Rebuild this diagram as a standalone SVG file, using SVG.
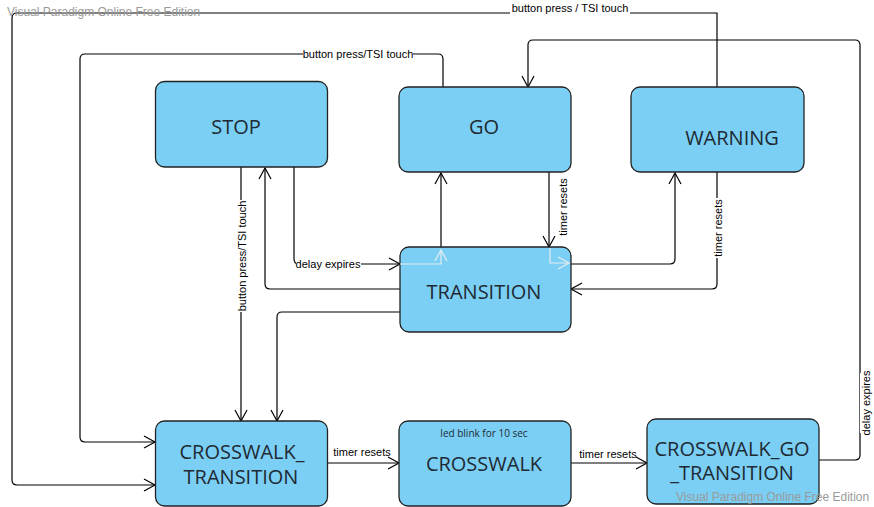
<svg xmlns="http://www.w3.org/2000/svg" width="874" height="507" viewBox="0 0 874 507">
<style>
.node rect{fill:#7bcff4;stroke:#222;stroke-width:1.3}
.nt{font-family:"Open Sans",sans-serif;font-size:20px;fill:#1e2a33;text-anchor:middle}
.st{font-family:"Open Sans",sans-serif;font-size:10px;fill:#1e2a33;text-anchor:middle}
.conn path{fill:none;stroke:#000;stroke-width:1.2}
.conn path.lt{stroke:#e4ecf0}
.lb{font-family:"Liberation Sans",Arial,sans-serif;font-size:11px;fill:#000;text-anchor:middle}
.bg{fill:#fff}
.wm{font-family:"Liberation Sans",Arial,sans-serif;font-size:12px;fill:#9a9a9a}
</style>
<defs>
<marker id="ah" markerWidth="14" markerHeight="14" refX="12" refY="7" orient="auto" markerUnits="userSpaceOnUse"><path d="M1,1 L12,7 L1,13" fill="none" stroke="#000" stroke-width="1.2"/></marker>
<marker id="ahl" markerWidth="14" markerHeight="14" refX="12" refY="7" orient="auto" markerUnits="userSpaceOnUse"><path d="M1,1 L12,7 L1,13" fill="none" stroke="#e4ecf0" stroke-width="1.2"/></marker>
</defs>
<g id="connectors" class="conn">
<path marker-end="url(#ah)" d="M717,87 V13 H17 Q12,13 12,18 V480 Q12,485 17,485 H155"/>
<path marker-end="url(#ah)" d="M443,87 V59 Q443,54 438,54 H85 Q80,54 80,59 V437 Q80,442 85,442 H155"/>
<path marker-end="url(#ah)" d="M819,460 H855 Q860,460 860,455 V45 Q860,40 855,40 H533 Q528,40 528,45 V87"/>
<path marker-end="url(#ah)" d="M241,167 V421"/>
<path marker-end="url(#ah)" d="M400,289 H270 Q265,289 265,284 V168"/>
<path marker-end="url(#ah)" d="M294,167 V259 Q294,264 299,264 H400"/>
<path marker-end="url(#ah)" d="M441,247 V173"/>
<path marker-end="url(#ah)" d="M549,172 V247"/>
<path marker-end="url(#ah)" d="M571,264 H670 Q675,264 675,259 V173"/>
<path marker-end="url(#ah)" d="M717,172 V284 Q717,289 712,289 H571"/>
<path marker-end="url(#ah)" d="M400,312 H282 Q277,312 277,317 V421"/>
<path marker-end="url(#ah)" d="M328,463 H399"/>
<path marker-end="url(#ah)" d="M571,463 H647"/>
</g>
<g id="labels">
<rect class="bg" x="510" y="2" width="120" height="12"/>
<text class="lb" x="570" y="12">button press / TSI touch</text>
<rect class="bg" x="303" y="48" width="110" height="12"/>
<text class="lb" x="358" y="58">button press/TSI touch</text>
<g transform="translate(866,403) rotate(-90)"><rect class="bg" x="-30" y="-6" width="60" height="12"/><text class="lb" x="0" y="4">delay expires</text></g>
<g transform="translate(242,256) rotate(-90)"><rect class="bg" x="-56" y="-6" width="112" height="12"/><text class="lb" x="0" y="4">button press/TSI touch</text></g>
<rect class="bg" x="296" y="258" width="65" height="12"/>
<text class="lb" x="328" y="268">delay expires</text>
<g transform="translate(563,207) rotate(-90)"><text class="lb" x="0" y="4">timer resets</text></g>
<g transform="translate(718,228) rotate(-90)"><rect class="bg" x="-30" y="-6" width="60" height="12"/><text class="lb" x="0" y="4">timer resets</text></g>
<text class="lb" x="362" y="456">timer resets</text>
<text class="lb" x="608" y="458">timer resets</text>
</g>
<g id="stop" class="node"><rect x="155.5" y="81.5" width="172" height="85.5" rx="9"/><text class="nt" x="236" y="134">STOP</text></g>
<g id="go" class="node"><rect x="399" y="87" width="172" height="85" rx="9"/><text class="nt" x="484" y="134">GO</text></g>
<g id="warning" class="node"><rect x="631" y="87" width="173" height="85" rx="9"/><text class="nt" x="732" y="145">WARNING</text></g>
<g id="transition" class="node"><rect x="400" y="247" width="171" height="85" rx="9"/><text class="nt" x="484" y="299">TRANSITION</text></g>
<g id="crosswalk_transition" class="node"><rect x="155.5" y="421" width="172" height="85" rx="9"/><text class="nt" x="242" y="459">CROSSWALK_</text><text class="nt" x="241" y="484">TRANSITION</text></g>
<g id="crosswalk" class="node"><rect x="399" y="421" width="172" height="85" rx="9"/><text class="st" x="484" y="437">led blink for 10 sec</text><text class="nt" x="484" y="471">CROSSWALK</text></g>
<g id="crosswalk_go_transition" class="node"><rect x="647" y="419" width="172" height="85" rx="9"/><text class="nt" x="732" y="456">CROSSWALK_GO</text><text class="nt" x="732" y="480">_TRANSITION</text></g>
<g id="inner" class="conn">
<path class="lt" marker-end="url(#ahl)" d="M400,264 H441 V250"/>
<path class="lt" marker-end="url(#ahl)" d="M550,248 V263 H569"/>
</g>
<text class="wm" x="7" y="16">Visual Paradigm Online Free Edition</text>
<text class="wm" x="676" y="501">Visual Paradigm Online Free Edition</text>
</svg>
